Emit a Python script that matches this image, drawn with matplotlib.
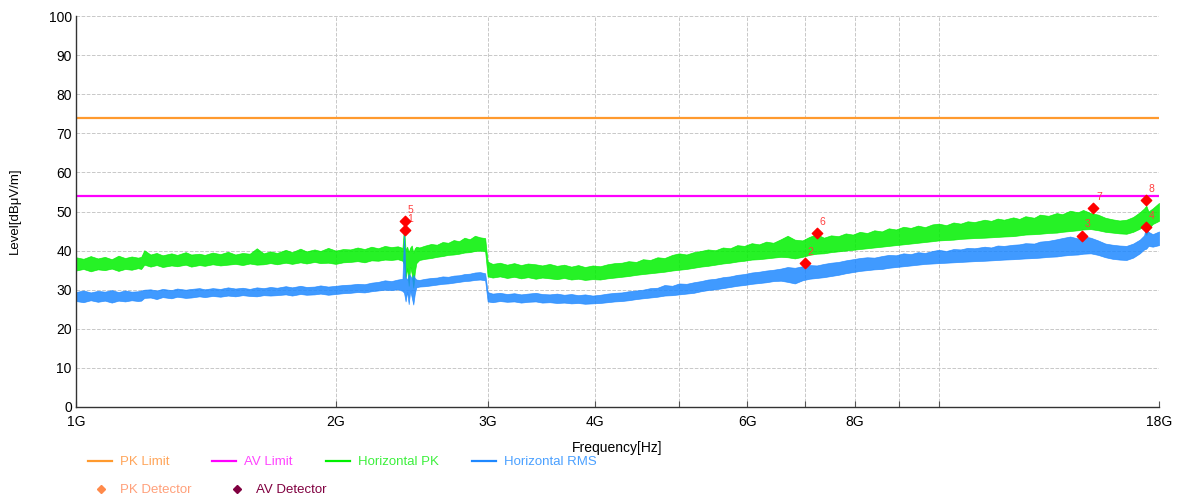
import numpy as np
import matplotlib.pyplot as plt
from matplotlib.lines import Line2D

plt.rcParams['font.family'] = ['Liberation Sans', 'DejaVu Sans']

# frequency points (GHz) and band envelopes, dBuV/m
freq = [1.00, 1.02, 1.04, 1.06, 1.08, 1.10, 1.12, 1.14, 1.16, 1.18,
        1.19, 1.20, 1.22, 1.24, 1.26, 1.29, 1.31, 1.34, 1.36, 1.39,
        1.41, 1.44, 1.47, 1.50, 1.53, 1.56, 1.59, 1.62, 1.65, 1.68,
        1.71, 1.75, 1.78, 1.82, 1.85, 1.89, 1.92, 1.96, 2.00, 2.04,
        2.08, 2.12, 2.16, 2.20, 2.24, 2.28, 2.32, 2.36, 2.39, 2.40,
        2.41, 2.42, 2.43, 2.44, 2.45, 2.46, 2.47, 2.48, 2.50, 2.54,
        2.58, 2.62, 2.66, 2.70, 2.74, 2.78, 2.82, 2.86, 2.90, 2.94,
        2.98, 3.00, 3.04, 3.10, 3.16, 3.22, 3.28, 3.34, 3.41, 3.47,
        3.54, 3.61, 3.68, 3.75, 3.82, 3.89, 3.97, 4.05, 4.13, 4.21,
        4.29, 4.37, 4.46, 4.54, 4.63, 4.72, 4.81, 4.91, 5.00, 5.10,
        5.20, 5.30, 5.40, 5.51, 5.62, 5.73, 5.84, 5.95, 6.07, 6.19,
        6.31, 6.43, 6.56, 6.68, 6.81, 6.95, 7.08, 7.22, 7.36, 7.50,
        7.65, 7.80, 7.95, 8.10, 8.26, 8.42, 8.59, 8.75, 8.92, 9.10,
        9.28, 9.46, 9.64, 9.83, 10.0, 10.2, 10.4, 10.6, 10.8, 11.0,
        11.3, 11.5, 11.7, 11.9, 12.2, 12.4, 12.6, 12.9, 13.1, 13.4,
        13.7, 13.9, 14.2, 14.5, 14.7, 15.0, 15.3, 15.6, 15.9, 16.2,
        16.5, 16.8, 17.1, 17.3, 17.4, 17.5, 17.7, 18.0]
pk_hi = [38.3, 37.9, 38.6, 38.0, 38.4, 37.8, 38.7, 38.1, 38.5, 38.2,
         38.4, 40.1, 39.0, 39.4, 38.8, 39.3, 38.9, 39.6, 39.0, 39.2,
         38.9, 39.5, 39.1, 39.7, 39.0, 39.4, 39.2, 40.6, 39.3, 39.8,
         39.4, 40.2, 39.6, 40.5, 39.8, 40.3, 39.9, 40.7, 40.0, 40.4,
         40.3, 40.8, 40.4, 41.0, 40.6, 41.2, 40.9, 41.1, 40.7, 46.0,
         40.2, 41.0, 39.6, 40.8, 41.3, 39.5, 40.6, 41.0, 40.8, 41.3,
         41.7, 41.5, 42.2, 42.0, 42.7, 42.4, 43.3, 42.9, 43.8, 43.4,
         43.2, 37.2, 36.6, 36.9, 36.4, 36.8, 36.3, 36.7, 36.5, 36.2,
         36.6, 36.1, 36.4, 35.9, 36.3, 35.8, 36.2, 36.0, 36.5, 36.8,
         36.9, 37.3, 37.1, 37.8, 37.6, 38.3, 38.1, 38.9, 39.3, 39.0,
         39.6, 39.9, 40.3, 40.1, 40.8, 40.6, 41.4, 41.2, 41.9, 41.6,
         42.3, 42.0, 42.9, 43.8, 42.8, 42.6, 43.5, 44.2, 43.3, 43.9,
         43.7, 44.4, 44.1, 44.8, 44.5, 45.2, 44.9, 45.7, 45.4, 46.1,
         45.8, 46.4, 46.0, 46.7, 46.9, 46.5, 47.2, 46.9, 47.5, 47.3,
         47.9, 47.6, 48.2, 47.9, 48.5, 48.1, 48.8, 48.4, 49.2, 48.9,
         49.6, 49.3, 50.2, 49.8, 50.4, 49.6, 49.2, 48.4, 48.0, 47.7,
         47.9, 48.6, 49.8, 50.8, 51.5, 50.0, 50.8, 52.2]
pk_lo = [34.9, 35.3, 34.7, 35.2, 35.0, 35.4, 34.8, 35.3, 35.1, 35.5,
         35.3, 36.4, 35.9, 36.3, 35.8, 36.2, 36.0, 36.4, 35.9, 36.3,
         36.1, 36.5, 36.2, 36.4, 36.6, 36.3, 36.7, 36.4, 36.5, 36.8,
         36.5, 36.9, 36.6, 37.0, 36.7, 37.1, 36.8, 36.9, 36.6, 37.0,
         37.1, 37.3, 37.0, 37.5, 37.4, 37.7, 37.6, 37.8, 37.4, 36.5,
         33.0, 35.5, 31.0, 35.8, 34.0, 30.5, 34.5, 36.8, 37.6, 37.9,
         38.1, 38.4, 38.6, 38.9, 39.0, 39.2, 39.5, 39.6, 39.9, 40.0,
         39.8, 33.4, 33.1, 33.4, 33.0, 33.3, 32.9, 33.2, 32.8, 33.1,
         32.9, 32.7, 33.0, 32.6, 32.8, 32.5, 32.7, 32.6, 32.9, 33.1,
         33.3, 33.5, 33.8, 34.0, 34.2, 34.4, 34.6, 34.9, 35.1, 35.3,
         35.6, 35.9, 36.1, 36.4, 36.7, 36.9, 37.2, 37.4, 37.7, 37.8,
         38.0, 38.2, 38.4, 38.3, 38.0, 38.4, 38.9, 39.2, 39.3, 39.6,
         39.8, 40.0, 40.2, 40.4, 40.6, 40.8, 41.0, 41.2, 41.4, 41.6,
         41.8, 42.0, 42.2, 42.4, 42.6, 42.7, 42.8, 43.0, 43.1, 43.2,
         43.3, 43.4, 43.5, 43.6, 43.7, 43.9, 44.1, 44.2, 44.3, 44.5,
         44.6, 44.8, 45.0, 45.2, 45.4, 45.5, 45.2, 44.8, 44.6, 44.4,
         44.3, 44.8, 45.6, 46.4, 44.0, 45.5, 46.8, 47.6]
rms_hi = [29.4, 29.8, 29.3, 29.7, 29.5, 29.9, 29.4, 29.8, 29.5, 29.6,
          29.8, 30.0, 30.1, 29.8, 30.2, 29.9, 30.3, 30.0, 30.2, 30.4,
          30.1, 30.4, 30.2, 30.6, 30.3, 30.5, 30.2, 30.6, 30.4, 30.7,
          30.5, 30.9, 30.6, 31.0, 30.7, 30.8, 31.1, 30.8, 31.0, 31.2,
          31.3, 31.5, 31.4, 31.8, 32.0, 32.4, 32.2, 32.6, 32.8, 44.2,
          33.2, 32.5, 34.0, 33.6, 32.8, 33.8, 33.0, 32.6, 32.5, 32.8,
          33.0, 33.1, 33.4, 33.3, 33.6, 33.7, 34.0, 34.1, 34.4, 34.5,
          34.2, 29.4, 29.0, 29.2, 28.9, 29.1, 28.8, 29.0, 29.2, 28.9,
          28.8, 29.0, 28.7, 28.9, 28.6, 28.8, 28.5, 28.7, 29.0, 29.2,
          29.3, 29.6, 29.8, 30.0, 30.4, 30.5, 31.2, 31.0, 31.6, 31.5,
          31.9, 32.2, 32.6, 32.8, 33.2, 33.4, 33.8, 34.0, 34.4, 34.6,
          34.9, 35.1, 35.4, 35.8, 35.6, 36.0, 36.3, 36.2, 36.6, 36.9,
          37.1, 37.5, 37.8, 38.1, 38.3, 38.2, 38.6, 38.9, 38.8, 39.3,
          39.1, 39.6, 39.4, 39.9, 40.2, 39.9, 40.4, 40.3, 40.7, 40.6,
          41.0, 40.8, 41.3, 41.2, 41.5, 41.6, 41.9, 41.8, 42.3, 42.5,
          42.9, 43.2, 43.6, 43.1, 43.7, 43.3, 42.6, 41.8, 41.5, 41.3,
          41.2, 41.8, 42.8, 43.9, 46.5, 44.8, 44.2, 44.9]
rms_lo = [27.1, 26.8, 27.3, 26.9, 27.2, 26.7, 27.2, 27.0, 27.3, 27.1,
          27.2, 27.9, 28.0, 27.6, 28.1, 27.8, 28.2, 27.9, 28.0, 28.3,
          28.1, 28.4, 28.2, 28.5, 28.3, 28.6, 28.4, 28.3, 28.6, 28.5,
          28.6, 28.8, 28.5, 28.9, 28.7, 28.8, 29.0, 28.7, 28.9, 29.1,
          29.2, 29.4, 29.3, 29.6, 29.8, 30.0, 29.9, 30.1, 29.7, 29.2,
          27.0, 29.5, 26.3, 29.8, 28.0, 26.2, 29.0, 30.6, 30.8, 30.9,
          31.1, 31.3, 31.5, 31.6, 31.8, 32.0, 32.2, 32.3, 32.5, 32.6,
          32.4, 27.0, 26.8, 27.1, 26.9, 27.0, 26.7, 26.9, 27.0, 26.7,
          26.8, 26.6, 26.7, 26.5, 26.6, 26.4, 26.5, 26.6, 26.8, 27.0,
          27.1, 27.3, 27.6, 27.8, 28.0, 28.2, 28.5, 28.6, 28.8, 29.0,
          29.2, 29.6, 29.9, 30.1, 30.4, 30.7, 31.0, 31.2, 31.5, 31.7,
          31.9, 32.2, 32.3, 32.0, 31.6, 32.4, 32.8, 33.0, 33.2, 33.5,
          33.8, 34.2, 34.5, 34.8, 35.0, 35.2, 35.3, 35.6, 35.8, 36.0,
          36.2, 36.4, 36.6, 36.7, 36.8, 36.9, 37.0, 37.1, 37.2, 37.3,
          37.4, 37.5, 37.6, 37.7, 37.8, 37.9, 38.0, 38.1, 38.2, 38.4,
          38.5, 38.7, 38.9, 39.0, 39.2, 39.3, 38.9, 38.3, 37.9, 37.7,
          37.6, 38.2, 39.3, 40.3, 40.5, 41.2, 41.0, 41.4]

pk_limit = 74
av_limit = 54

# detector hits
mk_freq = [2.404, 7.00, 14.67, 17.39, 2.404, 7.22, 15.10, 17.39]
mk_level = [45.3, 36.8, 43.8, 46.0, 47.6, 44.4, 50.8, 52.9]
mk_label = ['1', '2', '3', '4', '5', '6', '7', '8']

xticks = [1, 2, 3, 4, 6, 8, 18]
xticklabels = ['1G', '2G', '3G', '4G', '6G', '8G', '18G']
xminor = [5, 7, 9, 10]

c_pkl = '#FF9A2E'
c_avl = '#FF00FF'
c_pk = '#00F000'
c_rms = '#1E88FF'

W, H = 1178, 500
fig = plt.figure(figsize=(W/100, H/100), dpi=100)
ax = fig.add_axes([76/W, 1 - 407/H, (1159 - 76)/W, (407 - 16)/H])

ax.fill_between(freq, pk_lo, pk_hi, color=c_pk, lw=0.5, alpha=0.85)
ax.fill_between(freq, rms_lo, rms_hi, color=c_rms, lw=0.5, alpha=0.85)
ax.axhline(pk_limit, color=c_pkl, lw=1.6)
ax.axhline(av_limit, color=c_avl, lw=1.6)

ax.scatter(mk_freq, mk_level, marker='D', s=28, color='#FF0000', zorder=5)
for x, y, t in zip(mk_freq, mk_level, mk_label):
    ax.annotate(t, (x, y), xytext=(2, 6), textcoords='offset points',
                color='#FF4040', fontsize=7.5)

ax.set_xscale('log')
ax.set_xlim(1, 18)
ax.set_ylim(0, 100)
ax.set_xticks(xticks)
ax.set_xticklabels(xticklabels)
ax.set_xticks(xminor, minor=True)
ax.set_xticklabels([], minor=True)
ax.set_yticks(range(0, 101, 10))
ax.grid(True, which='both', color='#C8C8C8', ls='--', lw=0.7)
ax.set_axisbelow(True)
ax.tick_params(axis='x', which='both', direction='in', length=4, width=0.8,
               color='#555555', labelsize=10, pad=6)
ax.tick_params(axis='y', length=0, labelsize=10, pad=3)
for s in ['top', 'right']:
    ax.spines[s].set_visible(False)
for s in ['left', 'bottom']:
    ax.spines[s].set_color('#333333')
    ax.spines[s].set_linewidth(1.0)

fig.text(617/W, 1 - 448/H, 'Frequency[Hz]', ha='center', va='center', fontsize=10)
fig.text(15/W, 1 - 211/H, 'Level[dB\u03bcV/m]', ha='center', va='center',
         rotation=90, fontsize=9.5)

# legend, drawn by hand so the entries sit where the original has them
row1 = [('PK Limit', c_pkl, '#FFA55A', 88), ('AV Limit', c_avl, '#FF44FF', 212),
        ('Horizontal PK', c_pk, '#3CF03C', 326), ('Horizontal RMS', c_rms, '#4AA0FF', 472)]
for name, lc, tc, x0 in row1:
    fig.add_artist(Line2D([x0/W, (x0 + 24)/W], [1 - 461/H] * 2, color=lc, lw=1.6,
                          transform=fig.transFigure))
    fig.text((x0 + 32)/W, 1 - 462/H, name, color=tc, fontsize=9.5, va='center')

row2 = [('PK Detector', '#FF8A4A', '#FFA07A', 101), ('AV Detector', '#800040', '#800040', 237)]
for name, mc, tc, xm in row2:
    fig.add_artist(Line2D([xm/W], [1 - 489/H], ls='', marker='D', ms=4, color=mc,
                          transform=fig.transFigure))
    fig.text((xm + 19)/W, 1 - 490/H, name, color=tc, fontsize=9.5, va='center')

fig.savefig('out.png', dpi=100)
